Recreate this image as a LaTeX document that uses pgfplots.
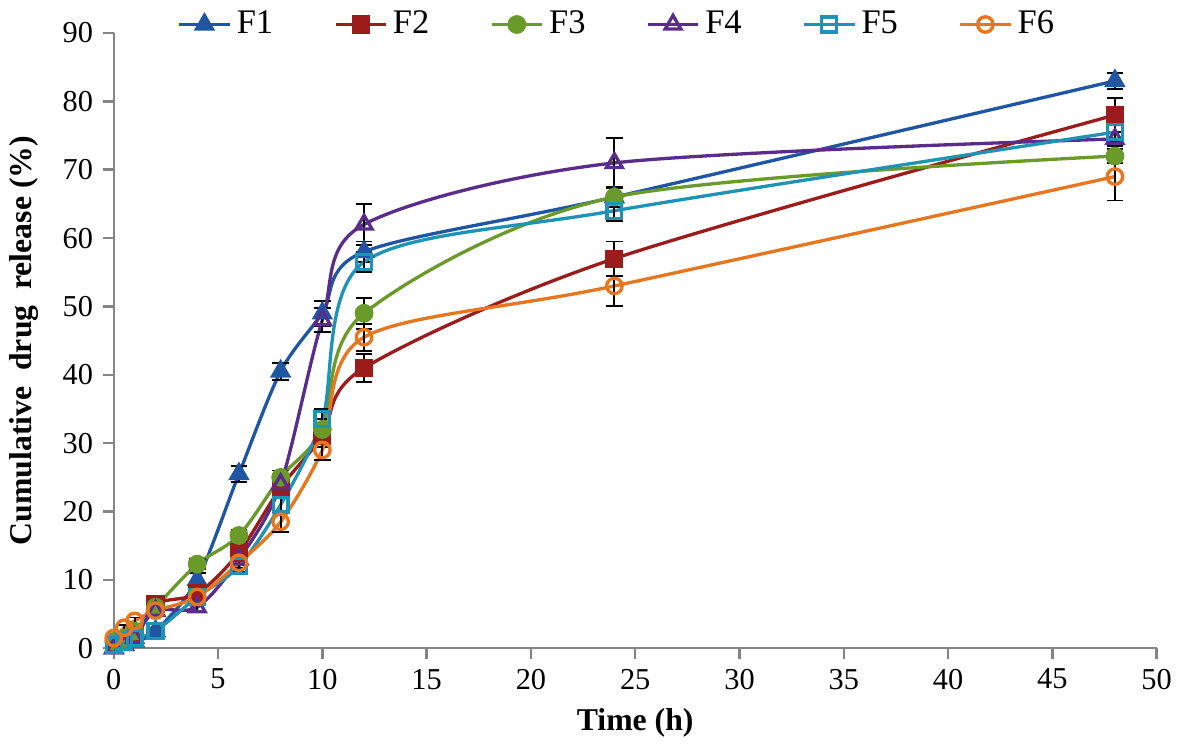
\documentclass[border=0pt]{standalone}
\usepackage{fontspec}
\setmainfont{Liberation Serif}
\usepackage{pgfplots}
\usepackage{pgfplotstable}
\pgfplotsset{compat=1.18}

\definecolor{cF1}{HTML}{1F56A3}
\definecolor{cF2}{HTML}{9C1C1C}
\definecolor{cF3}{HTML}{6A9A2A}
\definecolor{cF4}{HTML}{5A2D8A}
\definecolor{cF5}{HTML}{1F93B5}
\definecolor{cF6}{HTML}{E8761E}
\definecolor{axisgray}{HTML}{858585}

% t  y  err
\pgfplotstableread{
t y e
0 0 0.2
0.5 0.5 0.3
1 1 0.4
2 2.5 0.5
4 10 1
6 25.5 1.2
8 40.5 1.2
10 49 1.8
12 58 1.5
24 66 1.5
48 83 1.2
}\Fone
\pgfplotstableread{
t y e
0 0.5 0.3
0.5 1 0.3
1 2 0.5
2 6.5 0.6
4 8 0.8
6 14 1
8 23.5 1.2
10 31 1.5
12 41 2
24 57 2.5
48 78 2.5
}\Ftwo
\pgfplotstableread{
t y e
0 1 0.3
0.5 1.5 0.3
1 2.5 0.4
2 6 0.6
4 12.3 0.7
6 16.5 0.8
8 25 1
10 32 1.5
12 49 2.3
24 66 1.5
48 72 1
}\Fthree
\pgfplotstableread{
t y e
0 0 0.2
0.5 0.5 0.3
1 1.5 0.4
2 5.5 0.6
4 6 0.6
6 13 0.8
8 24 1.2
10 48 1.8
12 62 3
24 71 3.7
48 74.5 1
}\Ffour
\pgfplotstableread{
t y e
0 0.5 0.2
0.5 1 0.3
1 1.5 0.4
2 2.5 0.5
4 7.5 0.7
6 12 0.8
8 21 1.2
10 33.5 1.5
12 56.5 1.5
24 64 1.5
48 75.5 1.5
}\Ffive
\pgfplotstableread{
t y e
0 1.5 0.3
0.5 3 0.4
1 4 0.5
2 5.5 0.6
4 7.5 0.7
6 12.5 0.8
8 18.5 1.5
10 29 1.5
12 45.5 2
24 53 3
48 69 3.5
}\Fsix

\begin{document}
\begin{tikzpicture}
\begin{axis}[
  scale only axis,
  width=378pt, height=223pt,
  xmin=0, xmax=50, ymin=0, ymax=90,
  xtick={0,5,...,50}, ytick={0,10,...,90},
  axis x line*=bottom, axis y line*=left,
  axis line style={axisgray, line width=0.9pt},
  tick style={axisgray, line width=0.9pt},
  tick align=outside, major tick length=4pt,
  tick label style={font=\fontsize{11}{12}\selectfont},
  /pgf/number format/assume math mode=true,
  xlabel={\bfseries Time (h)},
  ylabel={\bfseries Cumulative\ \ drug\ \ release (\%)},
  label style={font=\fontsize{11.5}{13}\selectfont},
  xlabel style={yshift=0pt},
  ylabel style={yshift=2pt},
  clip=false,
  legend columns=6,
  legend style={draw=none, at={(0.5,1.0)}, anchor=south, yshift=-6pt, xshift=-6pt,
    font=\fontsize{12.5}{14}\selectfont,
    /tikz/every even column/.append style={column sep=20pt}},
  legend image code/.code={
    \draw[mark repeat=2,mark phase=2] plot coordinates {(0cm,0cm) (0.32cm,0cm) (0.64cm,0cm)};},
  every axis plot/.append style={line width=1.2pt, smooth, tension=0.5},
  error bars/y dir=both, error bars/y explicit,
  error bars/error bar style={black, line width=0.7pt, solid},
  error bars/error mark options={black, line width=0.7pt, mark size=3pt, rotate=90},
]
\addplot[cF1, mark=triangle*, mark size=3.3pt, mark options={solid, fill=cF1}] table[x=t, y=y, y error=e] {\Fone};
\addplot[cF2, mark=square*, mark size=2.7pt, mark options={solid, fill=cF2}] table[x=t, y=y, y error=e] {\Ftwo};
\addplot[cF3, mark=*, mark size=2.8pt, mark options={solid, fill=cF3}] table[x=t, y=y, y error=e] {\Fthree};
\addplot[cF4, mark=triangle, mark size=3.3pt, mark options={solid, fill=white}] table[x=t, y=y, y error=e] {\Ffour};
\addplot[cF5, mark=square, mark size=2.7pt, mark options={solid, fill=white}] table[x=t, y=y, y error=e] {\Ffive};
\addplot[cF6, mark=o, mark size=2.8pt, mark options={solid, fill=white}] table[x=t, y=y, y error=e] {\Fsix};
\legend{F1, F2, F3, F4, F5, F6}
\end{axis}
\end{tikzpicture}
\end{document}
